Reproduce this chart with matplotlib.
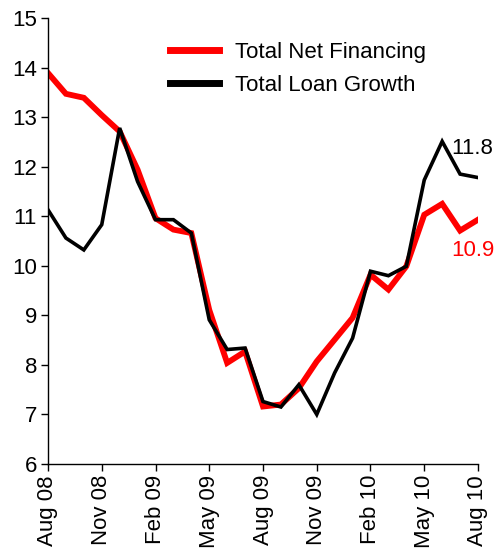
import matplotlib
matplotlib.use("Agg")
import matplotlib.pyplot as plt
import numpy as np

plt.rcParams["font.family"] = ["Liberation Sans", "DejaVu Sans"]

# monthly, Aug 08 .. Aug 10
months = ["Aug 08", "Sep 08", "Oct 08", "Nov 08", "Dec 08", "Jan 09", "Feb 09",
          "Mar 09", "Apr 09", "May 09", "Jun 09", "Jul 09", "Aug 09", "Sep 09",
          "Oct 09", "Nov 09", "Dec 09", "Jan 10", "Feb 10", "Mar 10", "Apr 10",
          "May 10", "Jun 10", "Jul 10", "Aug 10"]

net_financing = [13.89, 13.47, 13.39, 13.04, 12.71, 11.94, 10.96, 10.73, 10.66,
                 9.11, 8.04, 8.27, 7.16, 7.20, 7.53, 8.07, 8.51, 8.95, 9.82,
                 9.52, 9.99, 11.03, 11.25, 10.71, 10.93]

loan_growth = [11.13, 10.56, 10.32, 10.83, 12.78, 11.70, 10.93, 10.93, 10.66,
               8.91, 8.31, 8.34, 7.26, 7.15, 7.60, 7.00, 7.84, 8.54, 9.89,
               9.80, 9.99, 11.73, 12.51, 11.85, 11.78]

RED = "#FF0000"
BLACK = "#000000"
FS = 16

fig = plt.figure(figsize=(4.95, 5.53), dpi=100)
ax = fig.add_axes([48 / 495, 89 / 553, 430 / 495, 446 / 553])

x = np.arange(len(months))
ax.plot(x, net_financing, color=RED, lw=4.2, solid_joinstyle="miter",
        label="Total Net Financing")
ax.plot(x, loan_growth, color=BLACK, lw=2.6, solid_joinstyle="miter",
        label="Total Loan Growth")

ax.set_xlim(0, len(months) - 1)
ax.set_ylim(6, 15)
ax.set_yticks(range(6, 16))
ax.set_xticks(x[::3])
ax.set_xticklabels(months[::3], rotation=90)

for s in ["top", "right"]:
    ax.spines[s].set_visible(False)
for s in ["left", "bottom"]:
    ax.spines[s].set_linewidth(1.0)
ax.tick_params(axis="both", direction="out", length=5, width=1,
               labelsize=FS, pad=3)

# end-point labels
ax.annotate(f"{loan_growth[-1]:.1f}", xy=(x[-1], loan_growth[-1]),
            xytext=(-19, 21), textcoords="offset points",
            ha="left", va="center", fontsize=FS, color=BLACK,
            annotation_clip=False)
ax.annotate(f"{net_financing[-1]:.1f}", xy=(x[-1], net_financing[-1]),
            xytext=(-19, -22), textcoords="offset points",
            ha="left", va="center", fontsize=FS, color=RED,
            annotation_clip=False)

leg = ax.legend(loc="upper left", bbox_to_anchor=(0.284, 0.947),
                frameon=False, fontsize=FS, handlelength=2.2,
                handletextpad=0.7, labelspacing=0.54,
                borderpad=0, borderaxespad=0)
for line in leg.get_lines():
    line.set_linewidth(5)

fig.savefig("out.png", dpi=100)
